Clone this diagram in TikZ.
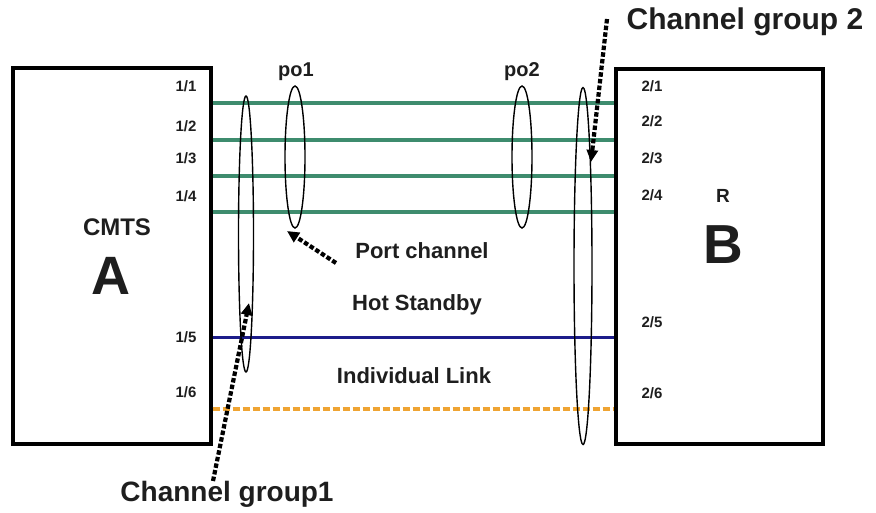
\documentclass[tikz,border=0pt]{standalone}
\usepackage{fontspec}
\setmainfont{Liberation Sans}
\usetikzlibrary{arrows.meta,shapes.geometric}
\definecolor{lnkgreen}{HTML}{3E8C6E}
\definecolor{lnkblue}{HTML}{1C1C8A}
\definecolor{lnkorange}{HTML}{EFA432}
\definecolor{txt}{HTML}{1E1E1E}
\begin{document}
\begin{tikzpicture}[x=1pt,y=-1pt,
  devbox/.style={draw=black,line width=3.4pt,rectangle,inner sep=0pt},
  loopel/.style={draw=black,line width=1.4pt,ellipse,inner sep=0pt},
  port/.style={font=\bfseries\fontsize{15}{15}\selectfont,text=txt,inner sep=0pt},
  lbl/.style={font=\bfseries\fontsize{22}{22}\selectfont,text=txt,inner sep=0pt},
  biglbl/.style={font=\bfseries\fontsize{30}{30}\selectfont,text=txt,inner sep=0pt},
  pointer/.style={line width=4.2pt,dash pattern=on 4.5pt off 2.2pt,-{Triangle[length=12pt,width=11pt]}}]
\useasboundingbox (0,0) rectangle (876,512);
% devices
\node[devbox,minimum width=198pt,minimum height=376pt] (A) at (112,256) {};
\node[devbox,minimum width=207pt,minimum height=375pt] (B) at (719.5,256.5) {};
% links
\draw[lnkgreen,line width=3.4pt] (A.east |- 0,103) -- (B.west |- 0,103);
\draw[lnkgreen,line width=3.4pt] (A.east |- 0,140) -- (B.west |- 0,140);
\draw[lnkgreen,line width=3.4pt] (A.east |- 0,176) -- (B.west |- 0,176);
\draw[lnkgreen,line width=3.4pt] (A.east |- 0,212) -- (B.west |- 0,212);
\draw[lnkblue,line width=3pt] (A.east |- 0,337) -- (B.west |- 0,337);
\draw[lnkorange,line width=4.4pt,dash pattern=on 7pt off 3pt] (A.east |- 0,409) -- (B.west |- 0,409);
% loops
\node[loopel,minimum width=15pt,minimum height=276pt] (cg1) at (246,234) {};
\node[loopel,minimum width=20pt,minimum height=142pt] (po1) at (295,157) {};
\node[loopel,minimum width=20pt,minimum height=142pt] (po2) at (522,157) {};
\node[loopel,minimum width=18pt,minimum height=357pt] (cg2) at (583,266) {};
% port labels
\node[port] (p11) at (186,86) {1/1};
\node[port] (p12) at (186,126) {1/2};
\node[port] (p13) at (186,158) {1/3};
\node[port] (p14) at (186,196) {1/4};
\node[port] (p15) at (186,337) {1/5};
\node[port] (p16) at (186,392) {1/6};
\node[port] (p21) at (652,86) {2/1};
\node[port] (p22) at (652,121) {2/2};
\node[port] (p23) at (652,158) {2/3};
\node[port] (p24) at (652,195) {2/4};
\node[port] (p25) at (652,322) {2/5};
\node[port] (p26) at (652,393) {2/6};
% device labels
\node[lbl,font=\bfseries\fontsize{24}{24}\selectfont] (cmts) at (117,227) {CMTS};
\node[biglbl,font=\bfseries\fontsize{54}{54}\selectfont] (la) at (111,276) {A};
\node[lbl,font=\bfseries\fontsize{19}{19}\selectfont] (lr) at (723,196) {R};
\node[biglbl,font=\bfseries\fontsize{55}{55}\selectfont] (lb) at (723,245) {B};
% other labels
\node[lbl,font=\bfseries\fontsize{20}{20}\selectfont] (tpo1) at (296,72) {po1};
\node[lbl,font=\bfseries\fontsize{20}{20}\selectfont] (tpo2) at (522,72) {po2};
\node[lbl] (tport) at (422,251) {Port channel};
\node[lbl] (thot) at (417,305) {Hot Standby};
\node[lbl] (tind) at (414,376) {Individual Link};
\node[biglbl] (tcg2) at (745,22) {Channel group 2};
\node[biglbl,font=\bfseries\fontsize{28}{28}\selectfont] (tcg1) at (227,494) {Channel group1};
% pointers
\coordinate (s1) at (336,263);
\coordinate (e1) at (287,231);
\draw[pointer] (s1) -- (e1);
\coordinate (s2) at (213,481);
\coordinate (e2) at (249,303);
\draw[pointer] (s2) -- (e2);
\coordinate (s3) at (607,19);
\coordinate (e3) at (591,162);
\draw[pointer] (s3) -- (e3);
\end{tikzpicture}
\end{document}
